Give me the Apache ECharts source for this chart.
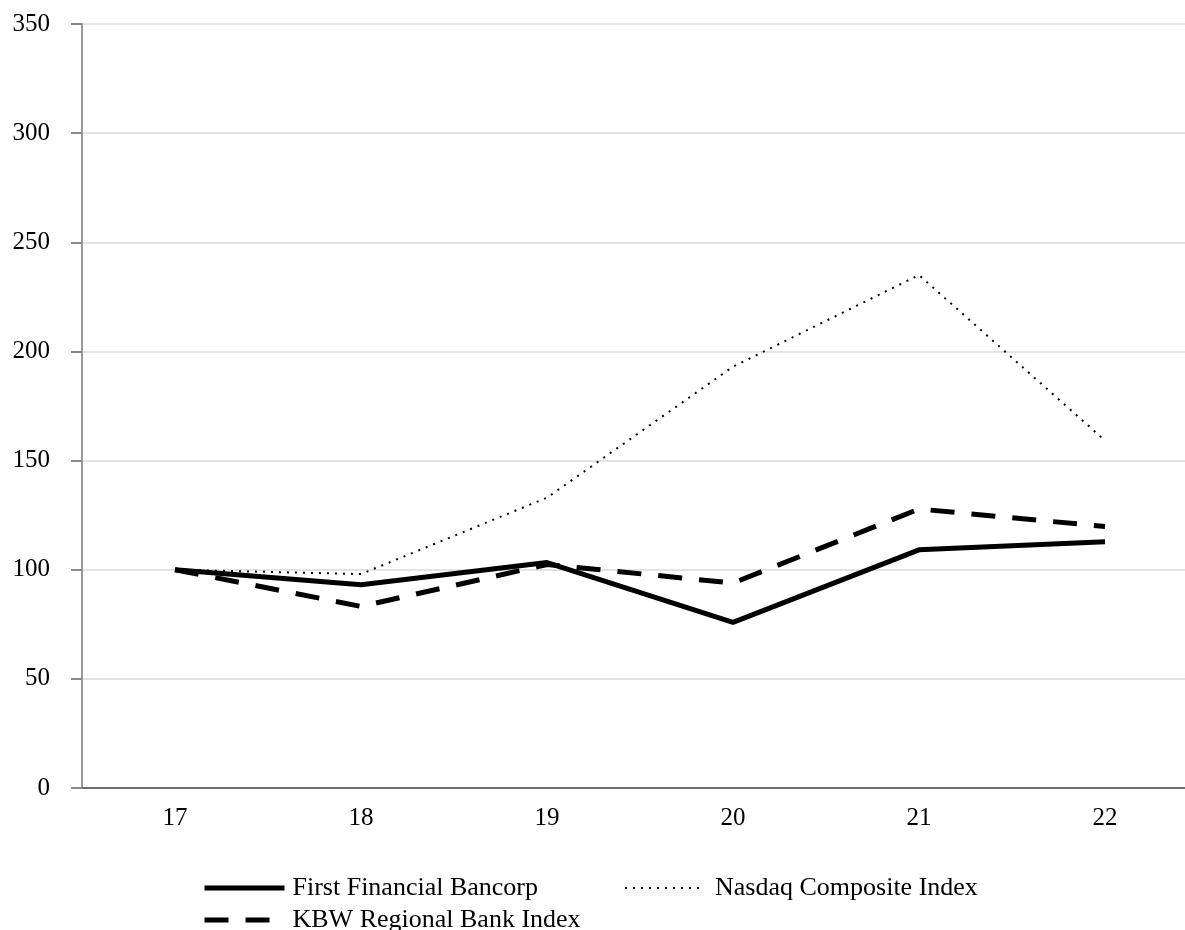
<!DOCTYPE html>
<html>
<head>
<meta charset="utf-8">
<script src="https://cdn.jsdelivr.net/npm/echarts@6/dist/echarts.min.js"></script>
<style>
html,body{margin:0;padding:0;background:#fff;overflow:hidden;width:1185px;height:930px;}
#chart{width:1198px;height:930px;}
</style>
</head>
<body>
<div id="chart"></div>
<script>
var categories = ['17', '18', '19', '20', '21', '22'];
var firstFinancial = [100, 93.1, 103.3, 75.9, 109.1, 112.8];
var kbwRegional = [100, 83.2, 102.4, 93.9, 127.8, 119.8];
var nasdaq = [100, 98.0, 133.0, 193.0, 235.0, 159.2];
var yTicks = { min: 0, max: 350, interval: 50 };

var font = 'Liberation Serif';
var chart = echarts.init(document.getElementById('chart'));
chart.setOption({
  animation: false,
  backgroundColor: '#ffffff',
  grid: { left: 82, top: 24, right: 0, height: 764, containLabel: false },
  xAxis: {
    type: 'category',
    data: categories,
    boundaryGap: true,
    axisLine: { lineStyle: { color: '#6e6e6e', width: 2 } },
    axisTick: { alignWithLabel: true, length: 10, lineStyle: { color: '#9a9a9a', width: 2 } },
    axisLabel: { color: '#000', fontFamily: font, fontSize: 25, margin: 18 },
    splitLine: { show: false }
  },
  yAxis: {
    type: 'value',
    min: yTicks.min, max: yTicks.max, interval: yTicks.interval,
    axisLine: { show: true, lineStyle: { color: '#9a9a9a', width: 2 } },
    axisTick: { show: true, length: 11, lineStyle: { color: '#8a8a8a', width: 2 } },
    axisLabel: { color: '#000', fontFamily: font, fontSize: 25, margin: 32 },
    splitLine: { lineStyle: { color: '#e3e3e3', width: 2 } }
  },
  legend: [
    {
      data: ['First Financial Bancorp'], left: 202, top: 875, padding: 0,
      itemWidth: 80, itemHeight: 14,
      itemStyle: { opacity: 0 },
      lineStyle: { color: '#000', width: 5, type: 'solid' },
      textStyle: { color: '#000', fontFamily: font, fontSize: 26, padding: [0, 0, 0, 3] }
    },
    {
      data: ['Nasdaq Composite Index'], left: 624, top: 875, padding: 0,
      itemWidth: 74, itemHeight: 14,
      itemStyle: { opacity: 0 },
      lineStyle: { color: '#000', width: 2, type: [2, 6] },
      textStyle: { color: '#000', fontFamily: font, fontSize: 26, padding: [0, 0, 0, 11] }
    },
    {
      data: ['KBW Regional Bank Index'], left: 202, top: 907, padding: 0,
      itemWidth: 66, itemHeight: 14,
      itemStyle: { opacity: 0 },
      lineStyle: { color: '#000', width: 5, type: [24, 17] },
      textStyle: { color: '#000', fontFamily: font, fontSize: 26, padding: [0, 0, 0, 17] }
    }
  ],
  series: [
    {
      name: 'Nasdaq Composite Index', type: 'line', data: nasdaq,
      symbol: 'none', color: '#000',
      lineStyle: { color: '#000', width: 2, type: [2, 6] }
    },
    {
      name: 'KBW Regional Bank Index', type: 'line', data: kbwRegional,
      symbol: 'none', color: '#000',
      lineStyle: { color: '#000', width: 5, type: [24, 17] }
    },
    {
      name: 'First Financial Bancorp', type: 'line', data: firstFinancial,
      symbol: 'none', color: '#000',
      lineStyle: { color: '#000', width: 5, type: 'solid' }
    }
  ]
});
</script>
</body>
</html>
